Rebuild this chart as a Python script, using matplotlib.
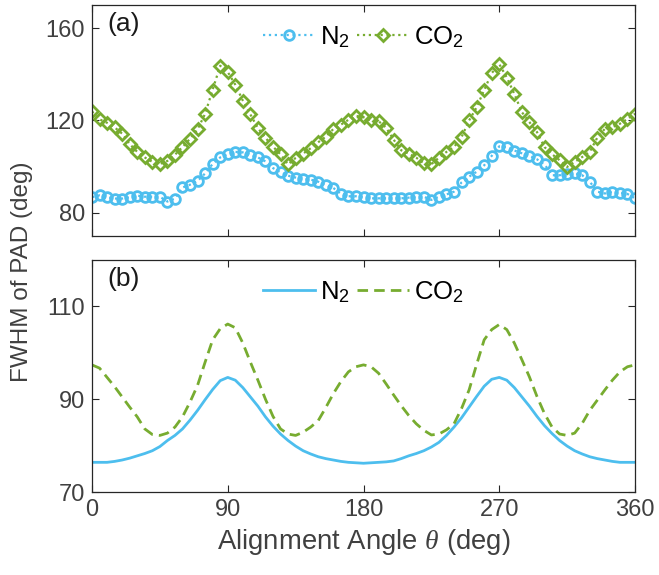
import numpy as np
import matplotlib
matplotlib.use("Agg")
import matplotlib.pyplot as plt

plt.rcParams['font.family'] = ['Liberation Sans', 'DejaVu Sans']
plt.rcParams['mathtext.fontset'] = 'custom'
plt.rcParams['mathtext.rm'] = 'Liberation Sans'
plt.rcParams['mathtext.it'] = 'Liberation Serif:italic'

# MATLAB-like colours
n2_blue = '#4DBEEE'
co2_green = '#77AC30'
axis_grey = '#262626'
label_grey = '#404040'

# ------------------------
# Data (a): measured FWHM, every 5 deg
# ------------------------
angle_a = np.arange(0, 361, 5)
n2_a = [86.8, 87.6, 86.8, 86.2, 86.2, 86.8, 87.5, 87.0, 87.0, 87.0,
        84.9, 86.2, 91.0, 92.2, 93.8, 97.1, 101.2, 104.0, 105.5, 106.4,
        106.2, 105.2, 104.0, 102.3, 99.4, 97.6, 96.1, 95.3, 94.7, 94.4,
        93.5, 92.0, 90.8, 88.2, 87.2, 87.2, 86.7, 86.3, 86.3, 86.3,
        86.3, 86.3, 86.6, 87.0, 87.0, 85.6, 87.0, 88.0, 89.2, 93.2,
        95.7, 97.8, 100.6, 104.7, 108.8, 108.5, 107.0, 105.8, 104.7, 103.2,
        101.0, 96.3, 96.3, 97.0, 97.1, 96.3, 93.5, 89.2, 88.4, 89.2,
        88.8, 88.2, 86.3]
co2_a = [123.9, 120.5, 119.0, 117.0, 114.3, 109.8, 106.4, 104.0, 102.1, 101.2,
         102.5, 105.2, 108.5, 112.1, 116.2, 122.9, 133.4, 143.7, 141.0, 135.5,
         128.6, 122.6, 116.7, 112.5, 108.7, 105.3, 101.0, 103.8, 105.7, 108.0,
         110.6, 113.0, 116.3, 118.2, 120.3, 122.0, 121.4, 120.0, 119.7, 116.9,
         111.7, 107.1, 105.7, 103.9, 101.4, 101.1, 103.9, 106.4, 108.5, 112.8,
         120.0, 125.7, 133.2, 140.5, 144.4, 138.6, 131.5, 123.6, 119.3, 115.0,
         108.5, 105.4, 102.8, 99.9, 102.1, 104.2, 106.4, 112.6, 116.4, 117.1,
         118.6, 120.7, 122.9]

# ------------------------
# Data (b): calculated FWHM, every 5 deg
# ------------------------
angle_b = np.arange(0, 361, 5)
n2_b = [76.4, 76.4, 76.4, 76.6, 76.9, 77.3, 77.8, 78.3, 78.9, 79.8,
        81.1, 82.2, 83.6, 85.5, 87.6, 89.9, 92.1, 94.0, 94.7, 94.1,
        92.5, 90.5, 88.5, 86.2, 84.2, 82.5, 81.1, 79.9, 78.9, 78.2,
        77.6, 77.2, 76.9, 76.6, 76.4, 76.3, 76.2, 76.3, 76.4, 76.5,
        76.7, 77.2, 77.8, 78.3, 78.9, 79.7, 80.7, 82.2, 84.0, 86.0,
        88.3, 90.6, 92.8, 94.3, 94.7, 94.1, 92.5, 90.5, 88.5, 86.3,
        84.3, 82.6, 81.1, 79.9, 78.9, 78.2, 77.6, 77.2, 76.9, 76.6,
        76.4, 76.4, 76.4]
co2_b = [97.4, 96.7, 94.7, 92.7, 90.5, 88.3, 86.2, 83.6, 82.4, 82.2,
         82.7, 84.0, 86.2, 89.4, 93.0, 98.0, 102.8, 105.2, 106.2, 105.4,
         102.1, 98.0, 94.1, 90.0, 86.3, 83.6, 82.5, 82.2, 82.9, 84.0,
         85.4, 88.2, 91.2, 93.8, 95.9, 97.0, 97.4, 97.0, 95.6, 93.3,
         90.9, 88.6, 86.5, 84.7, 83.3, 82.3, 82.5, 83.4, 84.7, 88.0,
         92.0, 97.5, 102.8, 105.0, 106.1, 105.0, 102.1, 98.5, 94.8, 90.6,
         86.9, 84.0, 82.5, 82.2, 82.7, 84.8, 87.6, 89.8, 92.0, 94.1,
         95.9, 97.0, 97.4]

x_ticks = [0, 90, 180, 270, 360]
y_ticks_a = [80, 120, 160]
y_ticks_b = [70, 90, 110]

# Figure
fig = plt.figure(figsize=(6.59, 5.75), dpi=100)
ax1 = fig.add_axes([0.1396, 0.5896, 0.824, 0.4017])
ax2 = fig.add_axes([0.1396, 0.1443, 0.824, 0.4035])

# ------------------------
# Top: markers + dotted lines
# ------------------------
ax1.plot(angle_a, n2_a, ':', color=n2_blue, lw=1.6, marker='o', ms=7,
         mfc='none', mew=2.0, label=r'N$_2$')
ax1.plot(angle_a, co2_a, ':', color=co2_green, lw=1.6, marker='D', ms=6.2,
         mfc='none', mew=2.0, label=r'CO$_2$')
ax1.set_ylim(70, 170)
ax1.set_yticks(y_ticks_a)
ax1.set_xticklabels([])

# ------------------------
# Bottom: smooth curves
# ------------------------
ax2.plot(angle_b, n2_b, '-', color=n2_blue, lw=2.0, label=r'N$_2$')
ax2.plot(angle_b, co2_b, '--', color=co2_green, lw=2.0, dashes=(3.8, 2.2),
         label=r'CO$_2$')
ax2.set_ylim(70, 120)
ax2.set_yticks(y_ticks_b)
ax2.set_xticklabels([str(t) for t in x_ticks])

for ax in (ax1, ax2):
    ax.set_xlim(0, 360)
    ax.set_xticks(x_ticks)
    for spine in ax.spines.values():
        spine.set_color(axis_grey)
        spine.set_linewidth(0.9)
    ax.tick_params(direction='in', length=5, width=0.8, top=True, right=True,
                   colors=axis_grey, labelcolor=label_grey, labelsize=17,
                   pad=5)
    ax.legend(loc='upper center', ncol=2, frameon=False, fontsize=18.5,
              handlelength=2.0, handletextpad=0.2, columnspacing=0.3,
              borderaxespad=0.35)

ax1.text(0.028, 0.97, '(a)', transform=ax1.transAxes, fontsize=19,
         va='top', ha='left', color='#1a1a1a')
ax2.text(0.028, 0.97, '(b)', transform=ax2.transAxes, fontsize=19,
         va='top', ha='left', color='#1a1a1a')

ax2.set_xlabel(r'Alignment Angle $\it{\theta}$ (deg)', fontsize=19.8,
               color=label_grey, labelpad=4)
fig.text(0.034, 0.527, 'FWHM of PAD (deg)', rotation=90, fontsize=17.5,
         color=label_grey, ha='center', va='center')

fig.savefig('out.png', dpi=100)
